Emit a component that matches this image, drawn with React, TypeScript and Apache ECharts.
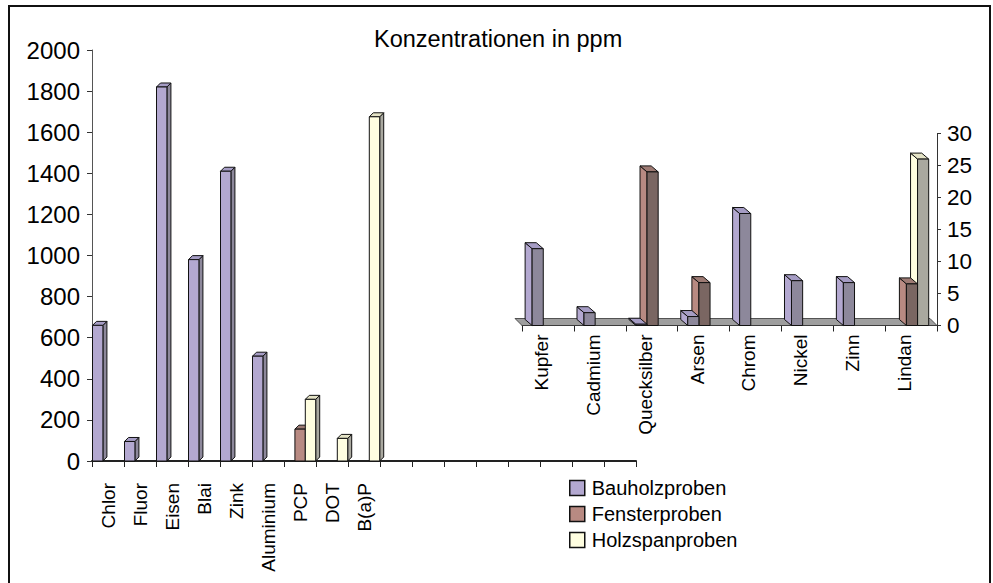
import { useEffect, useRef } from "react";
import * as echarts from "echarts";

// ---- data ----
const seriesNames = ["Bauholzproben", "Fensterproben", "Holzspanproben"];

const mainCategories = ["Chlor", "Fluor", "Eisen", "Blai", "Zink", "Aluminium", "PCP", "DOT", "B(a)P", "", "", "", "", "", "", "", ""];
const mainBauholz: (number | null)[] = [660, 95, 1820, 980, 1410, 510, null, null, null];
const mainFenster: (number | null)[] = [null, null, null, null, null, null, 155, null, null];
const mainHolzspan: (number | null)[] = [null, null, null, null, null, null, 300, 110, 1675];
const mainAxisMin = 0;
const mainAxisMax = 2000;
const mainAxisStep = 200;

const insetCategories = ["Kupfer", "Cadmium", "Quecksilber", "Arsen", "Chrom", "Nickel", "Zinn", "Lindan"];
const insetBauholz: (number | null)[] = [12, 2, 0.2, 1.4, 17.5, 7, 6.7, null];
const insetFenster: (number | null)[] = [null, null, 24, 6.7, null, null, null, 6.5];
const insetHolzspan: (number | null)[] = [null, null, null, null, null, null, null, 26];
const insetAxisMin = 0;
const insetAxisMax = 30;
const insetAxisStep = 5;

// ---- styles ----
const FONT = "'Liberation Sans', Arial, Helvetica, sans-serif";
const LIGHT = ["#B3A8D0", "#B88A82", "#FFFEE0"];
const DARK = ["#8D889B", "#7A6662", "#A9A89F"];
const TOP = ["#A59CC4", "#9E7B74", "#E4E3C6"];

function toData(arr: (number | null)[]) {
  const out: number[][] = [];
  arr.forEach((v, i) => {
    if (v !== null && v !== undefined) out.push([i, v]);
  });
  return out;
}

function bar3d(kind: "main" | "inset", si: number) {
  return (_params: any, api: any) => {
    const ci = api.value(0);
    const v = api.value(1);
    const base = api.coord([ci, 0]);
    const top = api.coord([ci, v]);
    const band = api.size([1, 0])[0];
    const start = base[0] - band / 2;
    let x0: number, w: number, dx: number, dy: number, frontFill: string, sideFill: string, topFill: string;
    if (kind === "main") {
      x0 = start + band * (0.016 + 0.325 * si);
      w = band * 0.325;
      dx = 4;
      dy = -4;
      frontFill = LIGHT[si];
      sideFill = DARK[si];
      topFill = TOP[si];
    } else {
      x0 = start + band * (0.195 + 0.215 * si);
      w = band * 0.215;
      dx = -7;
      dy = -6;
      frontFill = DARK[si];
      sideFill = LIGHT[si];
      topFill = TOP[si];
    }
    const x1 = x0 + w;
    const yb = base[1];
    const yt = top[1];
    const sideX = kind === "main" ? x1 : x0;
    const st = { stroke: "#111", lineWidth: 1, lineJoin: "round" };
    return {
      type: "group",
      children: [
        {
          type: "polygon",
          shape: { points: [[sideX, yb], [sideX + dx, yb + dy], [sideX + dx, yt + dy], [sideX, yt]] },
          style: { fill: sideFill, ...st },
        },
        {
          type: "polygon",
          shape: { points: [[x0, yt], [x0 + dx, yt + dy], [x1 + dx, yt + dy], [x1, yt]] },
          style: { fill: topFill, ...st },
        },
        {
          type: "rect",
          shape: { x: x0, y: yt, width: w, height: yb - yt },
          style: { fill: frontFill, ...st },
        },
      ],
    };
  };
}

export default function App() {
  const ref = useRef<HTMLDivElement>(null);

  useEffect(() => {
    if (!ref.current) return;
    const chart = echarts.init(ref.current, undefined, { renderer: "svg" });

    const mainSets = [mainBauholz, mainFenster, mainHolzspan];
    const insetSets = [insetBauholz, insetFenster, insetHolzspan];

    const series: any[] = [];
    mainSets.forEach((arr, si) => {
      series.push({
        type: "custom",
        name: seriesNames[si],
        xAxisIndex: 0,
        yAxisIndex: 0,
        z: 2 + si,
        itemStyle: { color: LIGHT[si] },
        renderItem: bar3d("main", si),
        data: toData(arr),
      });
    });
    series.push({
      type: "custom",
      name: "floor",
      xAxisIndex: 1,
      yAxisIndex: 1,
      z: 1,
      silent: true,
      renderItem: (params: any) => {
        const cs = params.coordSys;
        const yb = cs.y + cs.height;
        const xl = cs.x;
        const xr = cs.x + cs.width;
        return {
          type: "polygon",
          shape: { points: [[xl, yb], [xr, yb], [xr - 7, yb - 7], [xl - 7, yb - 7]] },
          style: { fill: "#9E9E9E", stroke: "#333", lineWidth: 0.8 },
        };
      },
      data: [[0, 0]],
    });
    insetSets.forEach((arr, si) => {
      series.push({
        type: "custom",
        name: seriesNames[si],
        xAxisIndex: 1,
        yAxisIndex: 1,
        z: 6 - si,
        itemStyle: { color: LIGHT[si] },
        renderItem: bar3d("inset", si),
        data: toData(arr),
      });
    });

    const plain = (v: number) => String(v);

    chart.setOption({
      animation: false,
      backgroundColor: "#fff",
      textStyle: { fontFamily: FONT },
      title: {
        text: "Konzentrationen in ppm",
        left: 374,
        top: 27,
        padding: 0,
        textStyle: { fontSize: 23.5, fontWeight: "normal", color: "#000", fontFamily: FONT },
      },
      legend: {
        orient: "vertical",
        left: 569,
        top: 478,
        padding: 0,
        itemWidth: 15,
        itemHeight: 15,
        itemGap: 6,
        selectedMode: false,
        textStyle: { fontSize: 20, color: "#000", fontFamily: FONT, padding: [0, 0, 0, 2] },
        data: seriesNames.map((n, i) => ({
          name: n,
          icon: "rect",
          itemStyle: { color: LIGHT[i], borderColor: "#111", borderWidth: 1.5 },
        })),
      },
      grid: [
        { left: 92, right: 357, top: 50, bottom: 122, containLabel: false, outerBoundsMode: "none" },
        { left: 522, right: 56, top: 133.5, bottom: 257.5, containLabel: false, outerBoundsMode: "none" },
      ],
      xAxis: [
        {
          type: "category",
          gridIndex: 0,
          data: mainCategories,
          axisLine: { show: true, lineStyle: { color: "#222", width: 2 } },
          axisTick: { show: true, length: 6, lineStyle: { color: "#222" } },
          axisLabel: { rotate: 90, interval: 0, fontSize: 19, margin: 22, color: "#000", fontFamily: FONT },
          splitLine: { show: false },
        },
        {
          type: "category",
          gridIndex: 1,
          data: insetCategories,
          axisLine: { show: true, lineStyle: { color: "#222", width: 1 } },
          axisTick: { show: true, length: 6, lineStyle: { color: "#222" } },
          axisLabel: {
            rotate: 90,
            interval: 0,
            fontSize: 19,
            margin: 9,
            color: "#000",
            fontFamily: FONT,
            verticalAlign: "bottom",
            lineHeight: 13,
          },
          splitLine: { show: false },
        },
      ],
      yAxis: [
        {
          type: "value",
          gridIndex: 0,
          min: mainAxisMin,
          max: mainAxisMax,
          interval: mainAxisStep,
          axisLine: { show: true, lineStyle: { color: "#555", width: 1 } },
          axisTick: { show: true, length: 5, lineStyle: { color: "#333" } },
          axisLabel: { fontSize: 24, margin: 12, color: "#000", fontFamily: FONT, formatter: plain },
          splitLine: { show: false },
        },
        {
          type: "value",
          gridIndex: 1,
          position: "right",
          min: insetAxisMin,
          max: insetAxisMax,
          interval: insetAxisStep,
          axisLine: { show: true, lineStyle: { color: "#333", width: 1 } },
          axisTick: { show: true, length: 4, lineStyle: { color: "#333" } },
          axisLabel: { fontSize: 22.5, margin: 10, color: "#000", fontFamily: FONT, formatter: plain },
          splitLine: { show: false },
        },
      ],
      graphic: [
        {
          type: "rect",
          silent: true,
          z: 100,
          shape: { x: 9, y: 6, width: 981, height: 640 },
          style: { fill: "none", stroke: "#111", lineWidth: 2 },
        },
      ],
      series,
    });

    return () => chart.dispose();
  }, []);

  return (
    <div
      ref={ref}
      style={{ position: "fixed", left: 0, top: 0, width: 993, height: 583 }}
    />
  );
}
